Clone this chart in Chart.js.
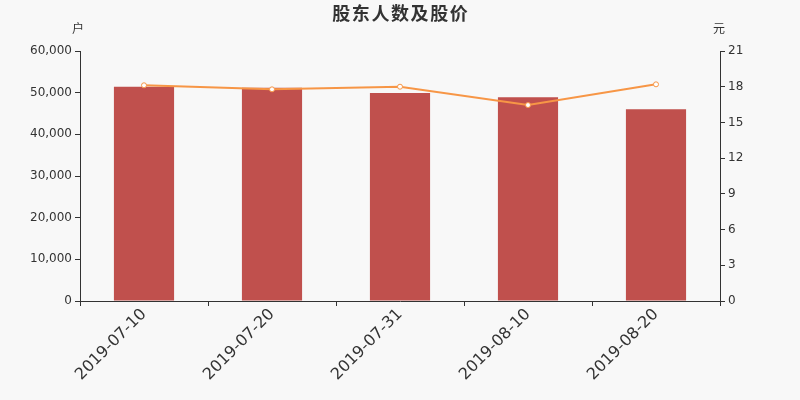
<!DOCTYPE html>
<html>
<head>
<meta charset="utf-8">
<script src="https://cdn.jsdelivr.net/npm/chart.js@4/dist/chart.umd.min.js"></script>
<style>
html,body{margin:0;padding:0;background:#f8f8f8;}
#wrap{width:800px;height:400px;}
</style>
</head>
<body>
<div id="wrap"><canvas id="c" width="800" height="400"></canvas></div>
<script>
const categories = ["2019-07-10","2019-07-20","2019-07-31","2019-08-10","2019-08-20"];
const holders = [51400, 51200, 49900, 48900, 46000];
const prices = [18.12, 17.78, 18.0, 16.46, 18.2];
const leftTicks = [0, 10000, 20000, 30000, 40000, 50000, 60000];
const rightTicks = [0, 3, 6, 9, 12, 15, 18, 21];
const titleText = "股东人数及股价";
const leftUnit = "户";
const rightUnit = "元";

const axisColor = "#333333";
const textColor = "#333333";

const overlay = {
  id: "overlay",
  beforeDraw(chart) {
    const ctx = chart.ctx;
    ctx.save();
    ctx.fillStyle = "#f8f8f8";
    ctx.fillRect(0, 0, chart.width, chart.height);
    ctx.restore();
  },
  afterDraw(chart) {
    const ctx = chart.ctx;
    const ca = chart.chartArea;
    ctx.save();
    ctx.fillStyle = textColor;
    ctx.textAlign = "center";
    ctx.textBaseline = "middle";
    ctx.font = "bold 18px 'Noto Sans CJK SC'";
    try { ctx.letterSpacing = "1.6px"; } catch (e) {}
    ctx.fillText(titleText, chart.width / 2 + 0.8, 13);
    try { ctx.letterSpacing = "0px"; } catch (e) {}
    ctx.font = "12px 'Noto Sans CJK SC'";
    ctx.fillText(leftUnit, ca.left - 2, 28);
    ctx.fillText(rightUnit, ca.right - 1, 28);
    ctx.restore();
  }
};

new Chart(document.getElementById("c"), {
  data: {
    labels: categories,
    datasets: [
      {
        type: "line",
        label: "股价",
        data: prices,
        yAxisID: "y1",
        borderColor: "#f79646",
        borderWidth: 2,
        pointRadius: 2.5,
        pointBackgroundColor: "#ffffff",
        pointBorderColor: "#f79646",
        pointBorderWidth: 1,
        tension: 0,
        order: 0
      },
      {
        type: "bar",
        label: "股东人数",
        data: holders,
        yAxisID: "y",
        backgroundColor: "#c0504d",
        barPercentage: 0.47,
        categoryPercentage: 1.0,
        order: 1
      }
    ]
  },
  options: {
    responsive: false,
    animation: false,
    devicePixelRatio: 1,
    layout: { padding: { top: 51, left: 0, right: 0, bottom: 0 } },
    plugins: { legend: { display: false }, title: { display: false }, tooltip: { enabled: false } },
    scales: {
      x: {
        offset: true,
        grid: { offset: true, drawOnChartArea: false, drawTicks: true, tickLength: 5, color: axisColor },
        border: { display: true, color: axisColor, width: 1 },
        ticks: {
          color: textColor,
          font: { family: "DejaVu Sans", size: 16 },
          maxRotation: 45,
          minRotation: 45,
          autoSkip: false,
          padding: -1
        },
        afterFit(s) { s.height = 99; }
      },
      y: {
        position: "left",
        min: 0,
        max: 60000,
        afterBuildTicks(s) { s.ticks = leftTicks.map(v => ({ value: v })); },
        grid: { drawOnChartArea: false, drawTicks: true, tickLength: 5, color: axisColor },
        border: { display: true, color: axisColor, width: 1 },
        ticks: {
          color: textColor,
          font: { family: "DejaVu Sans", size: 12 },
          padding: 3,
          callback: v => v.toLocaleString("en-US")
        },
        afterFit(s) { s.width = 80; }
      },
      y1: {
        position: "right",
        min: 0,
        max: 21,
        afterBuildTicks(s) { s.ticks = rightTicks.map(v => ({ value: v })); },
        grid: { drawOnChartArea: false, drawTicks: true, tickLength: 5, color: axisColor },
        border: { display: true, color: axisColor, width: 1 },
        ticks: {
          color: textColor,
          font: { family: "DejaVu Sans", size: 12 },
          padding: 3
        },
        afterFit(s) { s.width = 80; }
      }
    }
  },
  plugins: [overlay]
});
</script>
</body>
</html>
